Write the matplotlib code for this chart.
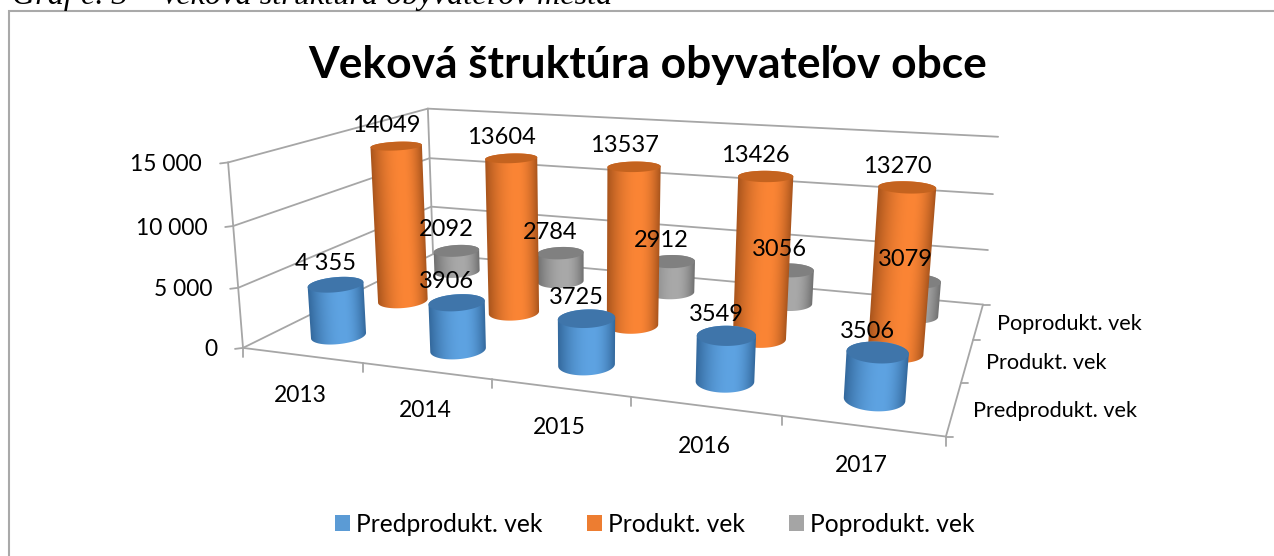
import numpy as np
import matplotlib
matplotlib.use('Agg')
import matplotlib.pyplot as plt
from matplotlib.colors import to_rgb
from matplotlib.patches import Patch, Polygon

years = ['2013', '2014', '2015', '2016', '2017']
series_names = ['Predprodukt. vek', 'Produkt. vek', 'Poprodukt. vek']
predprodukt = [4355, 3906, 3725, 3549, 3506]
produkt = [14049, 13604, 13537, 13426, 13270]
poprodukt = [2092, 2784, 2912, 3056, 3079]
label_text = [['4 355', '3906', '3725', '3549', '3506'],
              ['14049', '13604', '13537', '13426', '13270'],
              ['2092', '2784', '2912', '3056', '3079']]
z_ticks = [0, 5000, 10000, 15000]
z_labels = ['0', '5 000', '10 000', '15 000']
z_max = 15000

FONT = 'Lato'
GRID = '#a6a6a6'
side_dark = ['#33689c', '#a8541c', '#6f6f6f']
side_light = ['#5ea3e2', '#fb8535', '#a9a9a9']
top_col = ['#3f75aa', '#c4631f', '#808080']
swatch = ['#5b9bd5', '#ed7d31', '#a5a5a5']

# box corners (x, depth, height in 0..1) and where they sit in the picture
box = np.array([[0, 0, 0], [1, 0, 0], [1, 1, 0], [0, 1, 0], [0, 0, 1], [0, 1, 1], [1, 1, 1]], float)
pix = np.array([[243, 347], [946, 437], [983, 304], [433, 255], [228, 163], [428, 108], [998, 137]], float)

rows, rhs = [], []
for (a, b, c), (u, v) in zip(box, pix):
    rows.append([a, b, c, 1, 0, 0, 0, 0, -u * a, -u * b, -u * c])
    rows.append([0, 0, 0, 0, a, b, c, 1, -v * a, -v * b, -v * c])
    rhs += [u, v]
H = np.append(np.linalg.lstsq(np.array(rows), np.array(rhs), rcond=None)[0], 1).reshape(3, 4)


def project(x, y, z):
    x, y, z = np.broadcast_arrays(np.asarray(x, float), np.asarray(y, float), np.asarray(z, float))
    p = H @ np.array([x, y, z, np.ones_like(z)])
    return p[0] / p[2], p[1] / p[2]


def pt(x, y, z):
    u, v = project(x, y, z)
    return float(u), float(v)


fig = plt.figure(figsize=(12.74, 5.56), dpi=100)
ax = fig.add_axes([0, 0, 1, 1])
ax.axis('off')

# the frame is cut by the picture on the right and at the bottom
ax.plot([9.3, 9.3, 1274], [556, 11, 11], color='#a9a9a9', lw=1.5, solid_joinstyle='miter')
ax.text(12, 4, 'Graf č. 3 – Veková štruktúra obyvateľov mesta', family='Liberation Serif', style='italic',
        fontsize=23.2, va='baseline', ha='left', color='black', clip_on=False)
ax.text(648, 65, 'Veková štruktúra obyvateľov obce', family=FONT, fontweight='bold', fontsize=31.9,
        ha='center', va='center')


def seg(p, q, lw=1.3):
    ax.plot([p[0], q[0]], [p[1], q[1]], color=GRID, lw=lw, solid_capstyle='round', zorder=1)


# walls and floor edges
for t in z_ticks:
    z = t / z_max
    seg(pt(0, 0, z), pt(0, 1, z))
    seg(pt(0, 1, z), pt(1, 1, z))
    a = pt(0, 0, z)
    seg(a, (a[0] - 8, a[1] + 1))
seg(pt(0, 0, 0), pt(0, 0, 1))
seg(pt(0, 1, 0), pt(0, 1, 1))
seg(pt(0, 0, 0), pt(1, 0, 0))
seg(pt(1, 0, 0), pt(1, 1, 0))
for i in range(len(years) + 1):
    a = pt(i / len(years), 0, 0)
    seg(a, (a[0], a[1] + 9))
for j in range(len(series_names) + 1):
    a = pt(1, j / len(series_names), 0)
    seg(a, (a[0] + 7, a[1]))

for t, lab in zip(z_ticks, z_labels):
    u, v = pt(0, 0, t / z_max)
    ax.text(u - 26, v + 2, lab, family=FONT, fontsize=16.4, ha='right', va='center')
for i, lab in enumerate(years):
    u, v = pt((i + .5) / len(years), 0, 0)
    ax.text(u - 1, v + 40, lab, family=FONT, fontsize=16.5, ha='center', va='center')
for j, lab in enumerate(series_names):
    u, v = pt(1, (j + .5) / len(series_names), 0)
    ax.text(u + 19, v + 2.5, lab, family=FONT, fontsize=15.6, ha='left', va='center')

# cylinders, back row first
values = [predprodukt, produkt, poprodukt]
rx, ry = 0.039, 0.075
fine = np.linspace(0, 2 * np.pi, 721)[:-1]
zo = 2
for j in [2, 1, 0]:
    dark = np.array(to_rgb(side_dark[j]))
    light = np.array(to_rgb(side_light[j]))
    for i in range(len(years)):
        cx = (i + .5) / len(years)
        cy = (j + .5) / len(series_names)
        h = values[j][i] / z_max

        def ring(th, z):
            return project(cx + rx * np.cos(th), cy + ry * np.sin(th), z)

        # generators where the side turns away from the viewer
        c0 = np.array(pt(cx, cy, 0))
        c1 = np.array(pt(cx, cy, h))
        axis_dir = (c1 - c0) / np.hypot(*(c1 - c0))
        normal = np.array([-axis_dir[1], axis_dir[0]])
        normal = normal if normal[0] > 0 else -normal
        ru, rv = ring(fine, 0)
        dist = (ru - c0[0]) * normal[0] + (rv - c0[1]) * normal[1]
        th_l, th_r = fine[np.argmin(dist)], fine[np.argmax(dist)]
        if th_r < th_l:
            th_r += 2 * np.pi
        front = np.linspace(th_l, th_r, 49)
        back = np.linspace(th_r, th_l + 2 * np.pi, 49)

        bu, bv = ring(front, 0)
        tu, tv = ring(back, h)
        outline = np.c_[np.r_[bu, tu], np.r_[bv, tv]]

        # shading across the side, worked out per pixel and clipped to the outline
        x0, x1 = int(outline[:, 0].min()) - 2, int(outline[:, 0].max()) + 3
        y0, y1 = int(outline[:, 1].min()) - 2, int(outline[:, 1].max()) + 3
        gx, gy = np.meshgrid(np.arange(x0, x1) + .5, np.arange(y0, y1) + .5)
        lb, lt = pt(cx + rx * np.cos(th_l), cy + ry * np.sin(th_l), 0), pt(cx + rx * np.cos(th_l), cy + ry * np.sin(th_l), h)
        rb, rt = pt(cx + rx * np.cos(th_r), cy + ry * np.sin(th_r), 0), pt(cx + rx * np.cos(th_r), cy + ry * np.sin(th_r), h)
        xl = lb[0] + (lt[0] - lb[0]) * (gy - lb[1]) / (lt[1] - lb[1])
        xr = rb[0] + (rt[0] - rb[0]) * (gy - rb[1]) / (rt[1] - rb[1])
        w = np.clip((gx - xl) / (xr - xl), 0, 1)
        s = np.where(w < 0.6, 1 - ((0.6 - w) / 0.6) ** 2, 1 - ((w - 0.6) / 0.4) ** 2)
        img = dark + (light - dark) * s[..., None]
        im = ax.imshow(img, extent=(x0, x1, y1, y0), aspect='auto', interpolation='bilinear', zorder=zo)
        im.set_clip_path(Polygon(outline, transform=ax.transData))

        tu, tv = ring(fine, h)
        ax.fill(tu, tv, color=top_col[j], lw=0, zorder=zo + 0.5)
        zo += 1

# data labels go above every cylinder
for j in range(3):
    for i in range(len(years)):
        u, v = pt((i + .5) / len(years), (j + .5) / len(series_names), values[j][i] / z_max)
        ax.text(u - 10, v - 21, label_text[j][i], family=FONT, fontsize=17, ha='center', va='center', zorder=100)

ax.set_xlim(0, 1274)
ax.set_ylim(556, 0)

handles = [Patch(facecolor=c, edgecolor='none') for c in swatch]
ax.legend(handles, series_names, loc='center', bbox_to_anchor=(655 / 1274, 1 - 524 / 556), ncol=3, frameon=False,
          prop={'family': FONT, 'size': 17.7}, handlelength=0.61, handleheight=0.61, handletextpad=0.25,
          columnspacing=1.8, borderpad=0, borderaxespad=0)

fig.savefig('out.png', dpi=100)
